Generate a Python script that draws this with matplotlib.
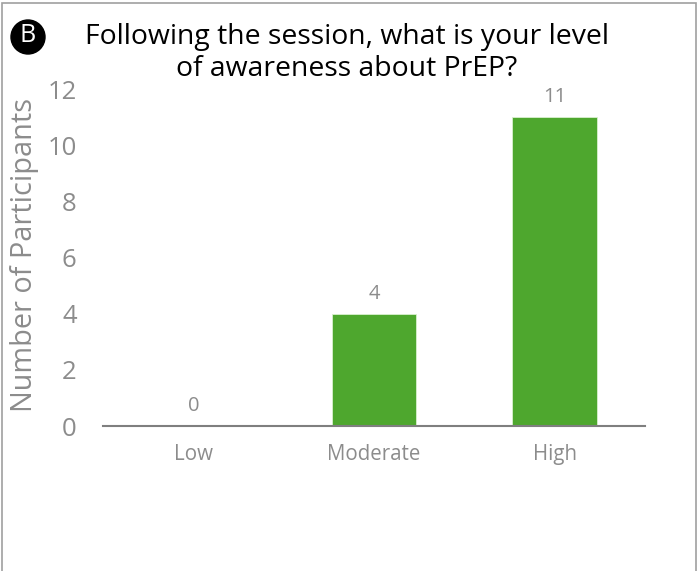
import matplotlib
matplotlib.use("Agg")
import matplotlib.pyplot as plt
from matplotlib.patches import Circle, Rectangle

categories = ["Low", "Moderate", "High"]
counts = [0, 4, 11]
yticks = [0, 2, 4, 6, 8, 10, 12]

GREEN = "#4EA72E"
GRAY = "#8C8C8C"
FONT = "Open Sans"

plt.rcParams["font.family"] = [FONT, "DejaVu Sans"]

fig = plt.figure(figsize=(6.99, 5.71), dpi=100)
ax = fig.add_axes([0.1474, 0.2539, 0.9227 - 0.1474, 0.8441 - 0.2539])

x = range(len(categories))
bars = ax.bar(x, counts, width=0.47, color=GREEN, edgecolor="#D9F0CF", linewidth=0.6)

for xi, v in zip(x, counts):
    ax.text(xi, v + 0.35, str(v), ha="center", va="bottom", fontsize=14.5, color=GRAY)

ax.set_xlim(-0.5, 2.5)
ax.set_ylim(0, 12)
ax.set_xticks(list(x))
ax.set_xticklabels(categories, fontsize=14.8, color=GRAY)
ax.set_yticks(yticks)
ax.set_yticklabels([str(t) for t in yticks], fontsize=18.5, color=GRAY)
ax.tick_params(axis="both", length=0)
ax.tick_params(axis="x", pad=13)
ax.tick_params(axis="y", pad=19)

for side in ["top", "right", "left"]:
    ax.spines[side].set_visible(False)
ax.spines["bottom"].set_color("#7F7F7F")
ax.spines["bottom"].set_linewidth(1.5)

fig.text(25 / 699, 1 - 255 / 571, "Number of Participants", rotation=90,
         ha="center", va="center", fontsize=20.8, color=GRAY)

fig.text(347 / 699, 1 - 53 / 571, "Following the session, what is your level\nof awareness about PrEP?",
         ha="center", va="center", fontsize=20.4, color="black", linespacing=1.22)

# panel letter badge
cx, cy = 28 / 699, 1 - 37 / 571
badge = Circle((28, 571 - 37), 17, transform=None, color="black")
fig.patches.append(badge)
fig.text(cx, cy + 1 / 571, "B", ha="center", va="center", fontsize=18, color="white")

# panel frame
frame = Rectangle((1.5 / 699, -0.1), (696 - 1.5) / 699, 1 - 2.5 / 571 + 0.1,
                  transform=fig.transFigure, fill=False, edgecolor="#A0A0A0", linewidth=1.2)
fig.patches.append(frame)

fig.savefig("out.png", dpi=100)
